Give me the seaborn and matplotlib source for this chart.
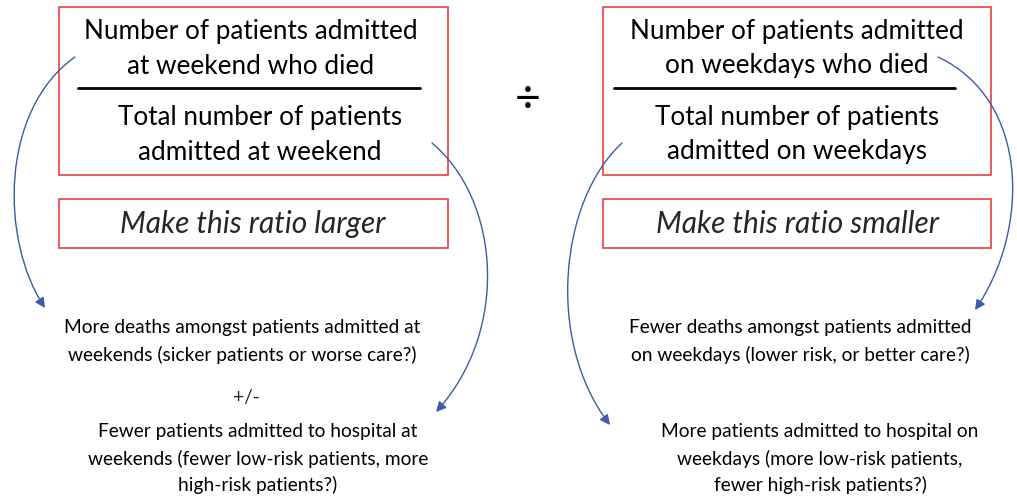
import matplotlib
matplotlib.use("Agg")
import matplotlib.pyplot as plt
import seaborn as sns
from matplotlib.patches import Rectangle, FancyArrowPatch
from matplotlib.path import Path

# text content
left_numerator = ["Number of patients admitted", "at weekend who died"]
left_denominator = ["Total number of patients", "admitted at weekend"]
right_numerator = ["Number of patients admitted", "on weekdays who died"]
right_denominator = ["Total number of patients", "admitted on weekdays"]
left_goal = "Make this ratio larger"
right_goal = "Make this ratio smaller"
left_reason_1 = ["More deaths amongst patients admitted at",
                 "weekends (sicker patients or worse care?)"]
left_reason_2 = ["Fewer patients admitted to hospital at",
                 "weekends (fewer low-risk patients, more",
                 "high-risk patients?)"]
right_reason_1 = ["Fewer deaths amongst patients admitted",
                  "on weekdays (lower risk, or better care?)"]
right_reason_2 = ["More patients admitted to hospital on",
                  "weekdays (more low-risk patients,",
                  "fewer high-risk patients?)"]

RED = "#e8413c"
BLUE = "#3a5da8"
W, H = 1017, 497

sns.set_theme(style="white")
plt.rcParams["font.family"] = ["Lato", "DejaVu Sans"]

fig = plt.figure(figsize=(W / 100, H / 100), dpi=100)
ax = fig.add_axes([0, 0, 1, 1])
ax.set_xlim(0, W)
ax.set_ylim(H, 0)
ax.axis("off")


def box(x0, y0, x1, y1):
    ax.add_patch(Rectangle((x0, y0), x1 - x0, y1 - y0, fill=False,
                           edgecolor=RED, linewidth=1.2))


def lines(textlist, cx, y0, step, size, **kw):
    for i, t in enumerate(textlist):
        ax.text(cx, y0 + i * step, t, ha="center", va="center",
                fontsize=size, color="black", **kw)


# top fraction boxes
box(59, 7, 448, 175)
box(603, 7, 991, 175)
lines(left_numerator, 251, 31, 35, 18.8)
lines(left_denominator, 260, 117, 35, 18.8)
ax.plot([78, 420], [88, 88], color="black", linewidth=2)
lines(right_numerator, 797, 31, 35, 18.8)
lines(right_denominator, 797, 117, 35, 18.8)
ax.plot([614, 955], [88, 88], color="black", linewidth=2)
ax.text(528, 99, "÷", ha="center", va="center", fontsize=32, color="black")

# goal boxes
box(59, 199, 448, 248)
box(603, 199, 991, 248)
ax.text(253, 224, left_goal, ha="center", va="center", fontsize=21.5, style="italic")
ax.text(797, 224, right_goal, ha="center", va="center", fontsize=21.5, style="italic")

# explanations
lines(left_reason_1, 242, 328, 27, 13.8)
ax.text(246, 397, "+/-", ha="center", va="center", fontsize=13.8)
lines(left_reason_2, 258, 432, 26.5, 13.8)
lines(right_reason_1, 800, 328, 27, 13.8)
lines(right_reason_2, 820, 432, 26.5, 13.8)

# curved arrows
curves = [
    [(75, 57), (0, 110), (0, 240), (45, 308)],
    [(432, 143), (500, 200), (510, 330), (436, 412)],
    [(938, 57), (1030, 100), (1030, 230), (975, 310)],
    [(622, 143), (560, 200), (545, 340), (610, 425)],
]
codes = [Path.MOVETO, Path.CURVE4, Path.CURVE4, Path.CURVE4]
for pts in curves:
    arrow = FancyArrowPatch(path=Path(pts, codes), arrowstyle="-|>,head_length=6,head_width=3",
                            color=BLUE, linewidth=1.0)
    ax.add_patch(arrow)

fig.savefig("out.png", dpi=100)
